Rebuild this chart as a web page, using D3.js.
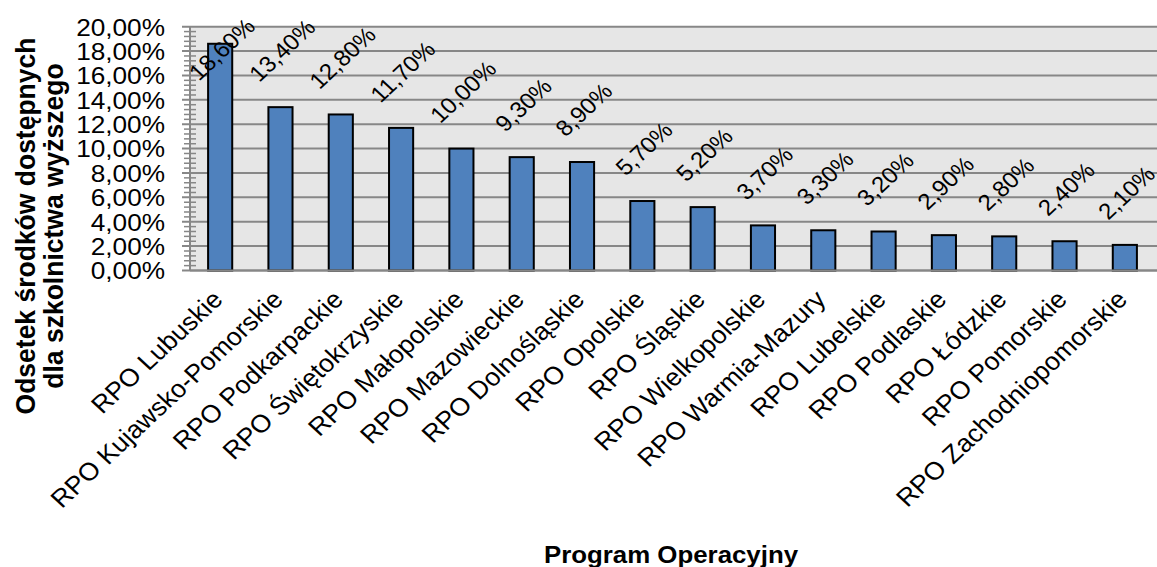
<!DOCTYPE html>
<html>
<head>
<meta charset="utf-8">
<script src="https://cdn.jsdelivr.net/npm/d3@7"></script>
<style>
  html, body { margin: 0; padding: 0; background: #fff; }
  svg { display: block; font-family: "Liberation Sans", Arial, sans-serif; }
</style>
</head>
<body>
<svg id="chart" width="1157" height="567"></svg>
<script>
// Share of funds available for higher education, by regional operational programme
const categories = [
  "RPO Lubuskie", "RPO Kujawsko-Pomorskie", "RPO Podkarpackie", "RPO Świętokrzyskie",
  "RPO Małopolskie", "RPO Mazowieckie", "RPO Dolnośląskie", "RPO Opolskie",
  "RPO Śląskie", "RPO Wielkopolskie", "RPO Warmia-Mazury", "RPO Lubelskie",
  "RPO Podlaskie", "RPO Łódzkie", "RPO Pomorskie", "RPO Zachodniopomorskie"
];
const shares = [18.6, 13.4, 12.8, 11.7, 10.0, 9.3, 8.9, 5.7, 5.2, 3.7, 3.3, 3.2, 2.9, 2.8, 2.4, 2.1];
const yTicks = [0, 2, 4, 6, 8, 10, 12, 14, 16, 18, 20];
const yMinorStep = 0.4;
const yTitleLines = ["Odsetek środków dostępnych", "dla szkolnictwa wyższego"];
const xTitle = "Program Operacyjny";

const fmt = v => v.toFixed(2).replace(".", ",") + "%";

// the chart's lettering is slightly wider than it is tall
const stretch = 1.07;

const svg = d3.select("#chart");
const plot = { left: 190, right: 1157, top: 26.7, bottom: 270.5 };

const x = d3.scaleBand()
  .domain(categories)
  .range([plot.left, 1155])
  .paddingInner(0.6)
  .paddingOuter(0.3);

const y = d3.scaleLinear()
  .domain([0, 20])
  .range([plot.bottom, plot.top]);

const gridColor = "#878787";

// plot background
svg.append("rect")
  .attr("x", plot.left).attr("y", plot.top)
  .attr("width", plot.right - plot.left)
  .attr("height", plot.bottom - plot.top)
  .attr("fill", "#e6e6e6");

// major gridlines (extend left past the axis as outside tick marks)
svg.append("g").selectAll("line")
  .data(yTicks)
  .join("line")
  .attr("x1", plot.left - 8).attr("x2", plot.right)
  .attr("y1", d => y(d)).attr("y2", d => y(d))
  .attr("stroke", gridColor).attr("stroke-width", 2);

// minor ticks crossing the value axis
const minor = d3.range(0, 20 + 1e-9, yMinorStep).filter(v => Math.abs(v / 2 - Math.round(v / 2)) > 1e-6);
svg.append("g").selectAll("line")
  .data(minor)
  .join("line")
  .attr("x1", plot.left - 6).attr("x2", plot.left + 6)
  .attr("y1", d => y(d)).attr("y2", d => y(d))
  .attr("stroke", gridColor).attr("stroke-width", 1.5);

// value axis line
svg.append("line")
  .attr("x1", plot.left).attr("x2", plot.left)
  .attr("y1", plot.top).attr("y2", plot.bottom)
  .attr("stroke", gridColor).attr("stroke-width", 2);

// value axis labels
svg.append("g").selectAll("text")
  .data(yTicks)
  .join("text")
  .attr("transform", d => `translate(165,${y(d)}) scale(${stretch},1)`)
  .attr("dy", "0.36em")
  .attr("text-anchor", "end")
  .attr("font-size", 24.5)
  .attr("fill", "#000")
  .text(fmt);

// bars
svg.append("g").selectAll("rect")
  .data(shares)
  .join("rect")
  .attr("x", (d, i) => x(categories[i]))
  .attr("y", d => y(d))
  .attr("width", x.bandwidth())
  .attr("height", d => y(0) - y(d))
  .attr("fill", "#4f81bd")
  .attr("stroke", "#000")
  .attr("stroke-width", 2);

// category axis line
svg.append("line")
  .attr("x1", plot.left).attr("x2", plot.right)
  .attr("y1", plot.bottom).attr("y2", plot.bottom)
  .attr("stroke", gridColor).attr("stroke-width", 2);

// rotated value labels above the bars
const labelSize = 22.5;
const labels = svg.append("g").selectAll("text")
  .data(shares)
  .join("text")
  .attr("font-size", labelSize)
  .attr("text-anchor", "middle")
  .attr("dy", "0.36em")
  .attr("fill", "#000")
  .text(fmt);
labels.each(function(d, i) {
  const w = this.getComputedTextLength();
  const half = (w + 0.75 * labelSize) / (2 * Math.SQRT2);
  const cx = x(categories[i]) + x.bandwidth() / 2 + 1.5;
  const cy = Math.max(y(d) - 24 - half, 49);
  d3.select(this).attr("transform", `translate(${cx},${cy}) scale(${stretch},1) rotate(-45)`);
});

// rotated category labels
svg.append("g").selectAll("text")
  .data(categories)
  .join("text")
  .attr("font-size", 25)
  .attr("text-anchor", "end")
  .attr("fill", "#000")
  .attr("transform", d => `translate(${x(d) + x.bandwidth() / 2 + 4},301) scale(${stretch},1) rotate(-45)`)
  .text(d => d);

// axis titles
svg.append("g").selectAll("text")
  .data(yTitleLines)
  .join("text")
  .attr("transform", (d, i) => `translate(${35 + i * 28},226) scale(${stretch},1) rotate(-90)`)
  .attr("text-anchor", "middle")
  .attr("font-size", 26.5)
  .attr("font-weight", "bold")
  .attr("fill", "#000")
  .text(d => d);

svg.append("text")
  .attr("transform", `translate(671,563) scale(1.1,1)`)
  .attr("text-anchor", "middle")
  .attr("font-size", 23.5)
  .attr("font-weight", "bold")
  .attr("fill", "#000")
  .text(xTitle);
</script>
</body>
</html>
